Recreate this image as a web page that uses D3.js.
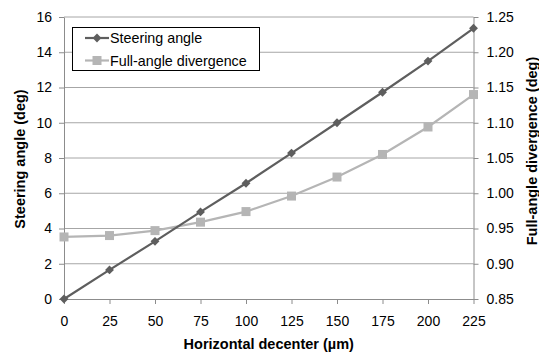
<!DOCTYPE html>
<html>
<head>
<meta charset="utf-8">
<script src="https://cdn.jsdelivr.net/npm/d3@7"></script>
<style>
  body { margin: 0; background: #fff; }
  svg { font-family: Arial, "Liberation Sans", Helvetica, sans-serif; }
</style>
</head>
<body>
<svg width="539" height="354"></svg>
<script>
var decenter = [0, 25, 50, 75, 100, 125, 150, 175, 200, 225];
var steering = [0, 1.65, 3.27, 4.94, 6.57, 8.28, 10.0, 11.73, 13.5, 15.36];
var divergence = [0.938, 0.940, 0.947, 0.959, 0.974, 0.996, 1.023, 1.055, 1.094, 1.140];
var leftTicks = [0, 2, 4, 6, 8, 10, 12, 14, 16];
var rightTicks = [0.85, 0.90, 0.95, 1.00, 1.05, 1.10, 1.15, 1.20, 1.25];
var seriesNames = ['Steering angle', 'Full-angle divergence'];

var svg = d3.select('svg');
var plotL = 64, plotR = 473.5, plotT = 17, plotB = 299;

var x = d3.scaleLinear().domain([0, 225]).range([plotL, plotR]);
var yL = d3.scaleLinear().domain([0, 16]).range([plotB, plotT]);
var yR = d3.scaleLinear().domain([0.85, 1.25]).range([plotB, plotT]);

// gridlines
svg.append('g').selectAll('line')
    .data(leftTicks.slice(1))
    .enter().append('line')
    .attr('x1', plotL).attr('x2', plotR)
    .attr('y1', function(d){ return yL(d); })
    .attr('y2', function(d){ return yL(d); })
    .attr('stroke', '#a6a6a6').attr('stroke-width', 1);

var tickFont = function(g){
    g.selectAll('text').style('font-size', '14px').attr('fill', '#000');
    g.selectAll('.domain').attr('stroke', '#8c8c8c');
    g.selectAll('.tick line').attr('stroke', '#8c8c8c');
};

svg.append('g')
    .attr('transform', 'translate(0,' + plotB + ')')
    .call(d3.axisBottom(x).tickValues(decenter).tickSize(5).tickSizeOuter(0).tickPadding(12))
    .call(tickFont);

svg.append('g')
    .attr('transform', 'translate(' + plotL + ',0)')
    .call(d3.axisLeft(yL).tickValues(leftTicks).tickSize(5).tickSizeOuter(0).tickPadding(7))
    .call(tickFont);

svg.append('g')
    .attr('transform', 'translate(' + plotR + ',0)')
    .call(d3.axisRight(yR).tickValues(rightTicks).tickFormat(d3.format('.2f')).tickSize(5).tickSizeOuter(0).tickPadding(8))
    .call(tickFont);

// lines
var line1 = d3.line()
    .x(function(d, i){ return x(decenter[i]); })
    .y(function(d){ return yL(d); });
var line2 = d3.line()
    .x(function(d, i){ return x(decenter[i]); })
    .y(function(d){ return yR(d); });

var darkCol = '#5e5e5e', lightCol = '#b5b5b5';

svg.append('path').datum(divergence)
    .attr('d', line2).attr('fill', 'none')
    .attr('stroke', lightCol).attr('stroke-width', 2.2);
svg.append('g').selectAll('rect')
    .data(divergence).enter().append('rect')
    .attr('x', function(d, i){ return x(decenter[i]) - 4.5; })
    .attr('y', function(d){ return yR(d) - 4.5; })
    .attr('width', 9).attr('height', 9)
    .attr('fill', lightCol);

svg.append('path').datum(steering)
    .attr('d', line1).attr('fill', 'none')
    .attr('stroke', darkCol).attr('stroke-width', 2.2);
var diamond = d3.symbol().type(d3.symbolDiamond2).size(50);
svg.append('g').selectAll('path')
    .data(steering).enter().append('path')
    .attr('d', diamond)
    .attr('transform', function(d, i){ return 'translate(' + x(decenter[i]) + ',' + yL(d) + ')'; })
    .attr('fill', darkCol);

// axis titles
svg.append('text')
    .attr('x', (plotL + plotR) / 2).attr('y', 349)
    .attr('text-anchor', 'middle')
    .style('font-size', '14.5px').style('font-weight', 'bold')
    .text('Horizontal decenter (\u00b5m)');
svg.append('text')
    .attr('transform', 'translate(25,159) rotate(-90)')
    .attr('text-anchor', 'middle')
    .style('font-size', '14.5px').style('font-weight', 'bold')
    .text('Steering angle (deg)');
svg.append('text')
    .attr('transform', 'translate(537,151) rotate(-90)')
    .attr('text-anchor', 'middle')
    .style('font-size', '14.5px').style('font-weight', 'bold')
    .text('Full-angle divergence (deg)');

// legend
var legend = svg.append('g');
legend.append('rect')
    .attr('x', 72.5).attr('y', 27.5).attr('width', 187).attr('height', 43)
    .attr('fill', '#fff').attr('stroke', '#000').attr('stroke-width', 1);
var legCols = [darkCol, lightCol];
seriesNames.forEach(function(name, i){
    var cy = 38 + i * 22.5;
    legend.append('line')
        .attr('x1', 85).attr('x2', 109).attr('y1', cy).attr('y2', cy)
        .attr('stroke', legCols[i]).attr('stroke-width', 2.2);
    if (i === 0) {
        legend.append('path').attr('d', diamond)
            .attr('transform', 'translate(97,' + cy + ')').attr('fill', darkCol);
    } else {
        legend.append('rect').attr('x', 92.5).attr('y', cy - 4.5)
            .attr('width', 9).attr('height', 9).attr('fill', lightCol);
    }
    legend.append('text')
        .attr('x', 110).attr('y', cy + 5)
        .style('font-size', '14.3px')
        .text(name);
});
</script>
</body>
</html>
